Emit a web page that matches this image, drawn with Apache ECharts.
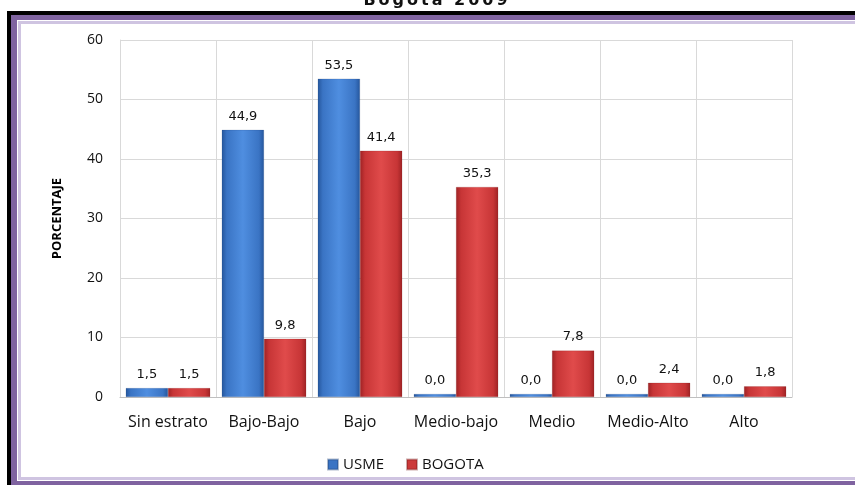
<!DOCTYPE html>
<html>
<head>
<meta charset="utf-8">
<script src="https://cdn.jsdelivr.net/npm/echarts@6/dist/echarts.min.js"></script>
<style>
  html, body { margin: 0; padding: 0; background: #ffffff; }
  #wrap { position: relative; width: 855px; height: 485px; overflow: hidden; background: #fff; }
  #chart { position: absolute; left: 0; top: 0; width: 855px; height: 485px; }
  .fr { position: absolute; pointer-events: none; }
  #title { position: absolute; left: 290px; width: 294px; top: -10px; text-align: center;
           font-family: "DejaVu Sans", sans-serif; font-weight: bold; font-size: 16px;
           letter-spacing: 3px; color: #111; }
</style>
</head>
<body>
<div id="wrap">
  <div id="chart"></div>
  <div id="title">Bogota 2009</div>
  <!-- frame -->
  <div class="fr" style="left:7px; top:11px; width:900px; height:4px; background:#000;"></div>
  <div class="fr" style="left:7px; top:11px; width:4px; height:500px; background:#000;"></div>
  <div class="fr" style="left:11px; top:15px; width:900px; height:5px; background:#7f63a0;"></div>
  <div class="fr" style="left:11px; top:15px; width:6px; height:500px; background:#7f63a0;"></div>
  <div class="fr" style="left:11px; top:481px; width:900px; height:10px; background:#7f63a0;"></div>
  <div class="fr" style="left:18px; top:21px; width:900px; height:3px; background:#cfc4e1;"></div>
  <div class="fr" style="left:18px; top:21px; width:3px; height:459px; background:#cfc4e1;"></div>
  <div class="fr" style="left:18px; top:477px; width:900px; height:3px; background:#cfc4e1;"></div>
</div>
<script>
const categories = ['Sin estrato', 'Bajo-Bajo', 'Bajo', 'Medio-bajo', 'Medio', 'Medio-Alto', 'Alto'];
const usme = [1.5, 44.9, 53.5, 0.0, 0.0, 0.0, 0.0];
const bogota = [1.5, 9.8, 41.4, 35.3, 7.8, 2.4, 1.8];
const seriesNames = ['USME', 'BOGOTA'];
const yTicks = { min: 0, max: 60, interval: 10 };

const chart = echarts.init(document.getElementById('chart'), null, { renderer: 'canvas' });

function grad(dark, mid, light) {
  return new echarts.graphic.LinearGradient(0, 0, 1, 0, [
    { offset: 0, color: dark },
    { offset: 0.12, color: mid },
    { offset: 0.5, color: light },
    { offset: 0.88, color: mid },
    { offset: 1, color: dark }
  ]);
}

const labelStyle = {
  show: true,
  position: 'top',
  distance: 7,
  fontFamily: '"DejaVu Sans", Verdana, sans-serif',
  fontSize: 13,
  color: '#111',
  formatter: p => p.value.toFixed(1).replace('.', ',')
};

chart.setOption({
  animation: false,
  grid: { left: 120, right: 63, top: 40, bottom: 88 },
  legend: {
    data: [
      { name: seriesNames[0], itemStyle: { color: '#3a74c4' } },
      { name: seriesNames[1], itemStyle: { color: '#cc3a3a' } }
    ],
    left: 322,
    top: 452,
    icon: 'rect',
    itemWidth: 10,
    itemHeight: 10,
    itemGap: 22,
    textStyle: { fontFamily: '"Open Sans", Lato, sans-serif', fontSize: 15, color: '#111' }
  },
  xAxis: {
    type: 'category',
    data: categories,
    axisLine: { show: true, lineStyle: { color: '#bfbfbf' } },
    axisTick: { show: false },
    axisLabel: { interval: 0, hideOverlap: false, margin: 17, fontFamily: '"Open Sans", Lato, sans-serif', fontSize: 16, color: '#111' },
    splitLine: { show: true, interval: 0, lineStyle: { color: '#d9d9d9' } }
  },
  yAxis: {
    type: 'value',
    min: yTicks.min,
    max: yTicks.max,
    interval: yTicks.interval,
    name: 'PORCENTAJE',
    nameLocation: 'middle',
    nameGap: 56,
    nameRotate: 90,
    nameTextStyle: { fontFamily: '"Liberation Sans Narrow", "Open Sans", sans-serif', fontWeight: 'bold', fontSize: 13, color: '#000' },
    axisLine: { show: true, lineStyle: { color: '#d9d9d9' } },
    axisTick: { show: false },
    axisLabel: { margin: 17, fontFamily: '"Open Sans", Lato, sans-serif', fontSize: 14, color: '#111' },
    splitLine: { show: true, lineStyle: { color: '#d9d9d9' } }
  },
  series: [
    {
      name: seriesNames[0],
      type: 'bar',
      data: usme,
      barGap: '0%',
      barCategoryGap: '12%',
      barMinHeight: 3,
      itemStyle: { color: grad('#25569c', '#3a74c4', '#4f8ee0'), borderColor: 'rgba(30,60,110,0.35)', borderWidth: 0.5 },
      label: Object.assign({}, labelStyle)
    },
    {
      name: seriesNames[1],
      type: 'bar',
      data: bogota,
      itemStyle: { color: grad('#9e2224', '#c73536', '#e04b4b'), borderColor: 'rgba(110,20,20,0.35)', borderWidth: 0.5 },
      label: Object.assign({}, labelStyle)
    }
  ]
});
</script>
</body>
</html>
